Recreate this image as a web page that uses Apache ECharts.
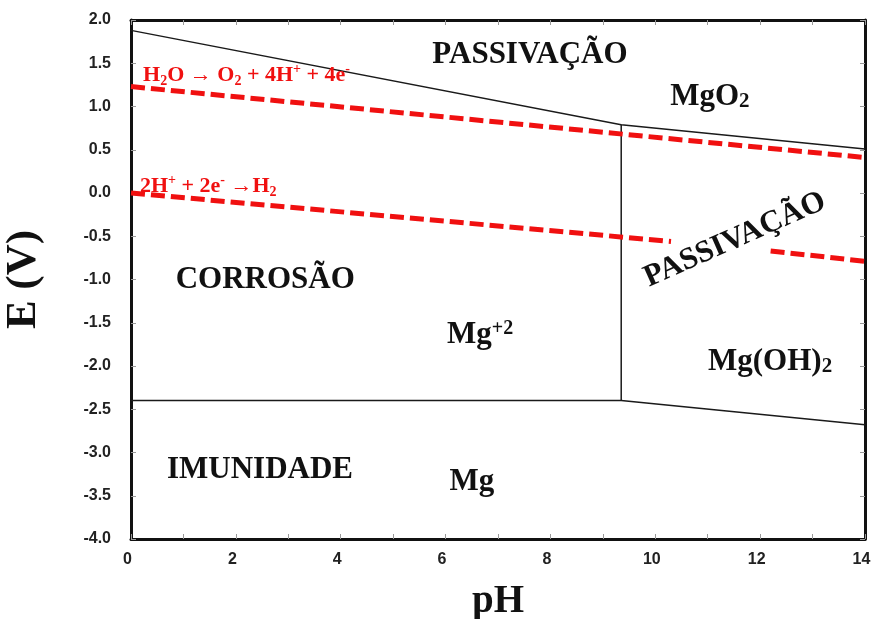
<!DOCTYPE html>
<html>
<head>
<meta charset="utf-8">
<script src="https://cdn.jsdelivr.net/npm/echarts@6/dist/echarts.min.js"></script>
<style>
  html, body { margin: 0; padding: 0; background: #fff; }
  #chart { width: 872px; height: 619px; }
</style>
</head>
<body>
<div id="chart"></div>
<script>
// Pourbaix diagram of magnesium (E vs pH)
const phTicks = [0, 2, 4, 6, 8, 10, 12, 14];

// stability boundaries [pH, E]
const upperBoundary = [[0, 1.88], [9.35, 0.79], [14, 0.51]];
const hydroxideEdge = [[9.35, 0.79], [9.35, -2.4]];
const immunityEdge = [[0, -2.4], [9.35, -2.4], [14, -2.68]];

// water stability lines
const oxygenLine = [[0, 1.23], [14, 0.41]];
const hydrogenLineA = [[0, 0.0], [10.3, -0.56]];
const hydrogenLineB = [[12.2, -0.67], [14, -0.79]];

// region and reaction labels: [pH, E, text]
const regionLabels = [
  [7.61, 1.60, 'PASSIVAÇÃO'],
  [11.04, 1.11, 'MgO2'],
  [2.56, -1.01, 'CORROSÃO'],
  [6.66, -1.64, 'Mg+2'],
  [11.52, -0.54, 'PASSIVAÇÃO (rot)'],
  [12.19, -1.95, 'Mg(OH)2'],
  [2.46, -3.20, 'IMUNIDADE'],
  [6.50, -3.34, 'Mg']
];
const reactionLabels = [
  [0.23, 1.36, 'H2O → O2 + 4H+ + 4e-'],
  [0.17, 0.08, '2H+ + 2e- → H2']
];

const SERIF = '"Liberation Serif", "Times New Roman", serif';
const RED = '#f01010';

const bigRich = {
  a: { fontFamily: SERIF, fontWeight: 'bold', fontSize: 31, color: '#111' },
  s: { fontFamily: SERIF, fontWeight: 'bold', fontSize: 21, color: '#111', padding: [10, 0, 0, 0] },
  u: { fontFamily: SERIF, fontWeight: 'bold', fontSize: 20, color: '#111', padding: [0, 0, 13, 0] }
};
const redRich = {
  n: { fontFamily: SERIF, fontWeight: 'bold', fontSize: 22, color: RED },
  b: { fontFamily: SERIF, fontWeight: 'bold', fontSize: 14, color: RED, padding: [12, 0, 0, 0] },
  p: { fontFamily: SERIF, fontWeight: 'bold', fontSize: 14, color: RED, padding: [0, 0, 12, 0] }
};

function regionText(t) {
  if (t === 'MgO2') return '{a|MgO}{s|2}';
  if (t === 'Mg(OH)2') return '{a|Mg(OH)}{s|2}';
  if (t === 'Mg+2') return '{a|Mg}{u|+2}';
  if (t === 'PASSIVAÇÃO (rot)') return '{a|PASSIVAÇÃO}';
  return '{a|' + t + '}';
}
function reactionText(t) {
  if (t.indexOf('H2O') === 0) {
    return '{n|H}{b|2}{n|O → O}{b|2}{n| + 4H}{p|+}{n| + 4e}{p|-}';
  }
  return '{n|2H}{p|+}{n| + 2e}{p|-}{n| →H}{b|2}';
}

const regionData = regionLabels.map(r => ({
  value: [r[0], r[1]],
  label: {
    show: true,
    position: 'inside',
    rotate: r[2].indexOf('(rot)') > 0 ? 24 : 0,
    formatter: regionText(r[2]),
    rich: bigRich
  }
}));
const reactionData = reactionLabels.map(r => ({
  value: [r[0], r[1]],
  label: {
    show: true,
    position: 'right',
    distance: 0,
    formatter: reactionText(r[2]),
    rich: redRich
  }
}));

function blackLine(data) {
  return {
    type: 'line', data: data, symbol: 'none', silent: true,
    lineStyle: { color: '#1a1a1a', width: 1.5 }, z: 3
  };
}
function redLine(data) {
  return {
    type: 'line', data: data, symbol: 'none', silent: true,
    lineStyle: { color: RED, width: 5, type: [14, 6] }, z: 4
  };
}

const chart = echarts.init(document.getElementById('chart'), null, { renderer: 'canvas' });
chart.setOption({
  animation: false,
  backgroundColor: '#fff',
  grid: { left: 131, right: 7, top: 20, bottom: 80, containLabel: false, outerBoundsMode: 'none' },
  xAxis: [
    {
      type: 'value', min: 0, max: 14, interval: 2,
      name: 'pH', nameLocation: 'middle', nameGap: 43,
      nameTextStyle: { fontFamily: SERIF, fontWeight: 'bold', fontSize: 39, color: '#111' },
      axisLine: { show: true, onZero: false, lineStyle: { color: '#111', width: 3 } },
      axisTick: { show: true, inside: true, length: 5, lineStyle: { color: '#999' } },
      minorTick: { show: true, splitNumber: 2, length: 5, lineStyle: { color: '#999' } },
      splitLine: { show: false },
      axisLabel: {
        margin: 13, fontFamily: '"Liberation Sans", Arial, sans-serif',
        fontWeight: 'bold', fontSize: 16, color: '#222',
        padding: [0, 7, 0, 0],
        formatter: v => (phTicks.indexOf(v) >= 0 ? String(v) : '')
      }
    },
    {
      type: 'value', position: 'top', min: 0, max: 14, interval: 1,
      axisLine: { show: true, onZero: false, lineStyle: { color: '#111', width: 3 } },
      axisTick: { show: true, inside: true, length: 5, lineStyle: { color: '#999' } },
      axisLabel: { show: false }, splitLine: { show: false }
    }
  ],
  yAxis: [
    {
      type: 'value', min: -4, max: 2, interval: 0.5,
      name: 'E (V)', nameLocation: 'middle', nameGap: 86,
      nameTextStyle: { fontFamily: SERIF, fontWeight: 'bold', fontSize: 43, color: '#111' },
      axisLine: { show: true, onZero: false, lineStyle: { color: '#111', width: 3 } },
      axisTick: { show: true, inside: true, length: 5, lineStyle: { color: '#999' } },
      splitLine: { show: false },
      axisLabel: {
        margin: 20, fontFamily: '"Liberation Sans", Arial, sans-serif',
        fontWeight: 'bold', fontSize: 16, color: '#222',
        formatter: v => v.toFixed(1)
      }
    },
    {
      type: 'value', position: 'right', min: -4, max: 2, interval: 0.5,
      axisLine: { show: true, onZero: false, lineStyle: { color: '#111', width: 3 } },
      axisTick: { show: true, inside: true, length: 5, lineStyle: { color: '#999' } },
      axisLabel: { show: false }, splitLine: { show: false }
    }
  ],
  series: [
    blackLine(upperBoundary),
    blackLine(hydroxideEdge),
    blackLine(immunityEdge),
    redLine(oxygenLine),
    redLine(hydrogenLineA),
    redLine(hydrogenLineB),
    {
      type: 'scatter', data: regionData, symbolSize: 0, silent: true, z: 5,
      itemStyle: { opacity: 1 }
    },
    {
      type: 'scatter', data: reactionData, symbolSize: 0, silent: true, z: 5,
      itemStyle: { opacity: 1 }
    }
  ]
});
</script>
</body>
</html>
